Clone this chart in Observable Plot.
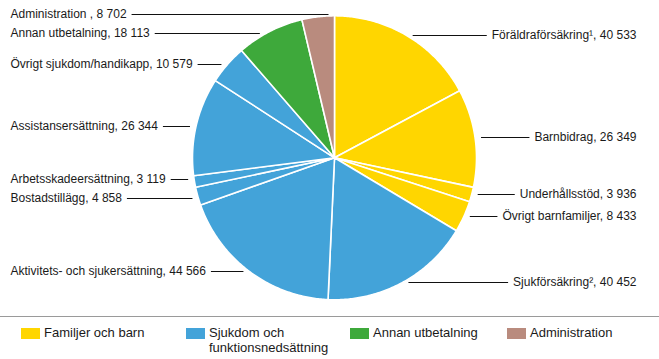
<!DOCTYPE html>
<html><head><meta charset="utf-8">
<script src="https://cdn.jsdelivr.net/npm/d3@7"></script>
<script src="https://cdn.jsdelivr.net/npm/@observablehq/plot@0.6"></script>
<style>
html,body{margin:0;padding:0;background:#fff;}
body{width:659px;height:359px;overflow:hidden;font-family:"Liberation Sans",Arial,sans-serif;}
#chart svg{display:block;}
#legend{position:relative;height:42px;border-top:1px solid #9a9a9a;font-size:13px;line-height:15px;color:#1a1a1a;}
.item{position:absolute;top:8px;}
.sw{position:absolute;top:3px;left:0;width:19px;height:11px;}
.lab{position:absolute;left:23px;top:0;width:130px;}
</style></head><body>
<div id="chart"></div><div id="legend"></div>
<script>
// ---- data ----
const categories = ["Föräldraförsäkring¹","Barnbidrag","Underhållsstöd","Övrigt barnfamiljer","Sjukförsäkring²","Aktivitets- och sjukersättning","Bostadstillägg","Arbetsskadeersättning","Assistansersättning","Övrigt sjukdom/handikapp","Annan utbetalning","Administration "];
const values = [40533,26349,3936,8433,40452,44566,4858,3119,26344,10579,18113,8702];
const categoryGroups = ["Familjer och barn","Familjer och barn","Familjer och barn","Familjer och barn",
  "Sjukdom och funktionsnedsättning","Sjukdom och funktionsnedsättning","Sjukdom och funktionsnedsättning",
  "Sjukdom och funktionsnedsättning","Sjukdom och funktionsnedsättning","Sjukdom och funktionsnedsättning",
  "Annan utbetalning","Administration"];
const groupNames = ["Familjer och barn","Sjukdom och funktionsnedsättning","Annan utbetalning","Administration"];
const groupColors = ["#ffd600","#43a3d9","#3ea93b","#b98b7e"];

// ---- layout ----
const W = 659, H = 316, cx = 334, cy = 157.3, r = 142, minGap = 19;
const fontSpec = "12px 'Liberation Sans', Arial, sans-serif";
const fmt = v => d3.format(",")(v).replace(/,/g, " ");
const ctx = document.createElement("canvas").getContext("2d");
ctx.font = fontSpec;
const measure = s => ctx.measureText(s).width;

const arcs = d3.pie().sort(null)(values);
const slicePts = arcs.flatMap((a, i) => {
  const g = categoryGroups[i];
  const pts = [{k: i, g, x: cx, y: cy}];
  const n = Math.max(2, Math.ceil((a.endAngle - a.startAngle) / 0.01));
  for (let j = 0; j <= n; j++) {
    const t = a.startAngle + (a.endAngle - a.startAngle) * j / n;
    pts.push({k: i, g, x: cx + r * Math.sin(t), y: cy - r * Math.cos(t)});
  }
  pts.push({k: i, g, x: cx, y: cy});
  return pts;
});

const labels = arcs.map((a, i) => {
  const mid = (a.startAngle + a.endAngle) / 2;
  return {i, mid, right: Math.sin(mid) > 0, y: cy - r * Math.cos(mid)};
});
// push apart labels that are too close on each side
[true, false].forEach(side => {
  const s = labels.filter(d => d.right === side).sort((a, b) => a.y - b.y);
  for (let it = 0; it < 20; it++) {
    for (let j = 1; j < s.length; j++) {
      const gap = s[j].y - s[j - 1].y;
      if (gap < minGap) { const d = (minGap - gap) / 2; s[j - 1].y -= d; s[j].y += d; }
    }
  }
});
labels.forEach(d => {
  d.y = Math.round(d.y);
  const edge = Math.sqrt(Math.max(0, r * r - (d.y - cy) ** 2));
  d.text = categories[d.i] + ", " + fmt(values[d.i]);
  const w = measure(d.text);
  d.xText = d.right ? 636 : 10;
  d.xEdge = d.right ? cx + edge + 6 : cx - edge - 6;
  d.xLine = d.right ? 636 - w - 5 : 10 + w + 5;
});

const chart = Plot.plot({
  width: W, height: H, margin: 0,
  x: {domain: [0, W], range: [0, W], axis: null},
  y: {domain: [0, H], range: [0, H], axis: null},
  color: {domain: groupNames, range: groupColors},
  style: {fontFamily: "'Liberation Sans', Arial, sans-serif", fontSize: "12px", background: "#fff"},
  marks: [
    Plot.line(slicePts, {x: "x", y: "y", z: "k", fill: "g", stroke: "white", strokeWidth: 1.6, strokeLinejoin: "round"}),
    Plot.link(labels, {x1: "xLine", x2: "xEdge", y1: "y", y2: "y", stroke: "#111", strokeWidth: 1}),
    Plot.text(labels.filter(d => !d.right), {x: "xText", y: "y", text: "text", textAnchor: "start", fill: "#1a1a1a", fontSize: 12}),
    Plot.text(labels.filter(d => d.right), {x: "xText", y: "y", text: "text", textAnchor: "end", fill: "#1a1a1a", fontSize: 12})
  ]
});
document.getElementById("chart").appendChild(chart);

// ---- legend ----
const legendX = [21, 186, 350, 507];
const legend = document.getElementById("legend");
groupNames.forEach((g, i) => {
  const item = document.createElement("div");
  item.className = "item";
  item.style.left = legendX[i] + "px";
  const sw = document.createElement("div");
  sw.className = "sw";
  sw.style.background = groupColors[i];
  const lab = document.createElement("div");
  lab.className = "lab";
  lab.textContent = g;
  item.appendChild(sw); item.appendChild(lab);
  legend.appendChild(item);
});
</script>
</body></html>
